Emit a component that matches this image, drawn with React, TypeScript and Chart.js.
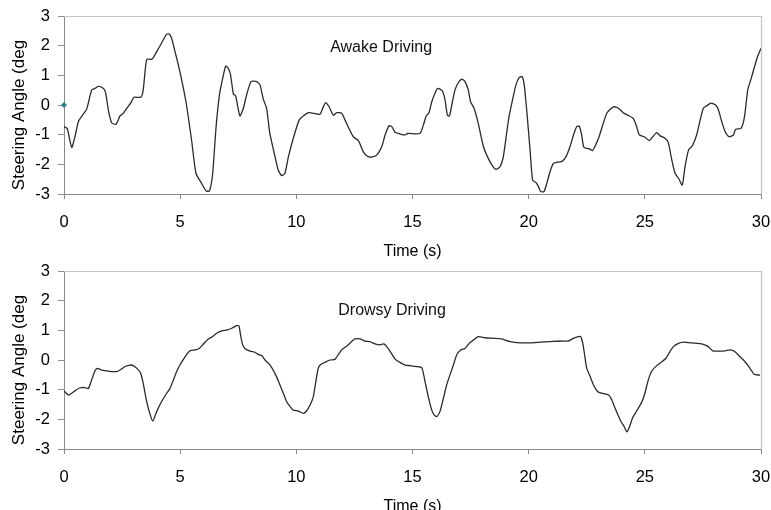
import React, { useEffect, useRef } from "react";
import { Chart, registerables } from "chart.js";
Chart.register(...registerables);

const FONT = '"Liberation Sans", Arial, sans-serif';

// axis ranges / tick steps
const xMin = 0;
const xMax = 30;
const xStep = 5;
const yMin = -3;
const yMax = 3;
const yStep = 1;

const xTitle = "Time (s)";
const yTitle = "Steering Angle (deg";

// Awake driving trace
const awakeTime = [
  0, 0.14, 0.33, 0.47, 0.62, 0.8, 0.98, 1.19, 1.33, 1.48, 1.66, 1.78, 1.91, 2.05, 2.24, 2.41, 2.55, 2.7, 2.87, 3.01,
  3.31, 3.41, 3.56, 3.77, 3.87, 3.99, 4.13, 4.27, 4.42, 4.53, 4.63, 4.78, 4.99, 5.25, 5.49, 5.68, 5.92, 6.11, 6.26, 6.4,
  6.54, 6.69, 6.83, 6.96, 7.07, 7.17, 7.29, 7.39, 7.57, 7.72, 7.86, 8.05, 8.29, 8.44, 8.58, 8.72, 8.86, 9.05, 9.22, 9.37,
  9.51, 9.66, 9.87, 10.12, 10.3, 10.52, 10.74, 11.02, 11.16, 11.26, 11.41, 11.59, 11.74, 11.95, 12.1, 12.24, 12.45, 12.67, 12.88, 13.03,
  13.24, 13.46, 13.68, 13.82, 13.99, 14.11, 14.25, 14.47, 14.68, 14.79, 15.32, 15.47, 15.59, 15.71, 15.83, 15.98, 16.08, 16.28, 16.4, 16.5,
  16.59, 16.69, 16.83, 16.97, 17.12, 17.26, 17.4, 17.5, 17.65, 17.83, 18.05, 18.26, 18.45, 18.59, 18.77, 18.91, 19.05, 19.16, 19.31, 19.45,
  19.59, 19.72, 19.81, 19.94, 20.06, 20.17, 20.32, 20.42, 20.52, 20.66, 20.78, 20.92, 21.06, 21.21, 21.42, 21.61, 21.78, 21.95, 22.07, 22.18,
  22.28, 22.38, 22.64, 22.74, 22.85, 23.03, 23.21, 23.36, 23.5, 23.65, 23.86, 24.07, 24.26, 24.5, 24.65, 24.76, 24.98, 25.19, 25.34, 25.51,
  25.66, 25.87, 26.01, 26.16, 26.3, 26.45, 26.61, 26.73, 26.88, 27.04, 27.23, 27.38, 27.52, 27.66, 27.85, 28.05, 28.17, 28.31, 28.46, 28.63,
  28.81, 28.91, 29.14, 29.29, 29.43, 29.58, 29.72, 29.86, 30,
];
const awakeAngle = [
  -0.73, -0.79, -1.43, -1.07, -0.56, -0.34, -0.13, 0.51, 0.56, 0.63, 0.58, 0.45, -0.17, -0.6, -0.65, -0.37, -0.28, -0.11, 0.06, 0.26,
  0.26, 0.51, 1.54, 1.54, 1.63, 1.8, 1.99, 2.19, 2.39, 2.39, 2.25, 1.8, 1.12, 0.11, -1.18, -2.3, -2.64, -2.89, -2.9, -2.3,
  -0.79, 0.34, 0.9, 1.31, 1.24, 1.01, 0.37, 0.3, -0.37, -0.11, 0.34, 0.79, 0.79, 0.67, 0.19, -0.11, -0.96, -1.63, -2.19, -2.38,
  -2.3, -1.74, -1.12, -0.51, -0.37, -0.26, -0.28, -0.31, -0.06, 0.08, -0.06, -0.34, -0.26, -0.28, -0.51, -0.75, -1.07, -1.2, -1.57, -1.71,
  -1.76, -1.69, -1.4, -1.01, -0.7, -0.73, -0.92, -0.98, -1.01, -0.96, -0.96, -0.67, -0.37, -0.26, 0.11, 0.42, 0.56, 0.48, 0.17, -0.34,
  -0.37, 0.0, 0.51, 0.75, 0.87, 0.79, 0.51, 0.11, -0.11, -0.62, -1.4, -1.8, -2.06, -2.17, -2.08, -1.74, -0.96, -0.37, 0.19, 0.67,
  0.92, 0.96, 0.67, -0.39, -1.52, -2.53, -2.62, -2.75, -2.92, -2.92, -2.64, -2.25, -1.97, -1.93, -1.91, -1.74, -1.4, -0.96, -0.73, -0.71,
  -1.01, -1.43, -1.49, -1.54, -1.4, -1.07, -0.62, -0.28, -0.15, -0.06, -0.11, -0.26, -0.34, -0.45, -0.73, -1.01, -1.07, -1.2, -1.07, -0.93,
  -1.04, -1.12, -1.27, -1.85, -2.3, -2.47, -2.7, -2.08, -1.52, -1.38, -1.01, -0.51, -0.11, -0.03, 0.06, 0.0, -0.17, -0.56, -0.9, -1.07,
  -1.01, -0.82, -0.79, -0.39, 0.51, 0.9, 1.29, 1.65, 1.91,
];

// Drowsy driving trace
const drowsyTime = [
  0, 0.19, 0.33, 0.47, 0.62, 0.76, 0.9, 1.05, 1.19, 1.33, 1.43, 1.62, 1.84, 2.05, 2.27, 2.48, 2.63, 2.84, 2.98, 3.16,
  3.3, 3.41, 3.53, 3.67, 3.82, 3.99, 4.2, 4.42, 4.56, 4.71, 4.85, 4.99, 5.14, 5.28, 5.42, 5.64, 5.82, 5.99, 6.21, 6.4,
  6.57, 6.79, 7.0, 7.22, 7.43, 7.53, 7.6, 7.69, 7.79, 8.01, 8.22, 8.36, 8.51, 8.65, 8.87, 9.08, 9.27, 9.44, 9.58, 9.73,
  9.87, 10.09, 10.3, 10.44, 10.59, 10.73, 10.85, 10.95, 11.05, 11.23, 11.45, 11.66, 11.81, 11.95, 12.17, 12.38, 12.52, 12.74, 12.96, 13.17,
  13.39, 13.6, 13.77, 13.89, 14.03, 14.25, 14.46, 14.68, 14.89, 15.18, 15.4, 15.54, 15.68, 15.83, 15.93, 16.04, 16.18, 16.33, 16.47, 16.61,
  16.76, 16.9, 17.07, 17.26, 17.44, 17.62, 17.83, 18.12, 18.48, 18.84, 19.2, 19.63, 20.06, 20.49, 20.92, 21.35, 21.71, 21.92, 22.14, 22.24,
  22.33, 22.43, 22.5, 22.65, 22.79, 22.98, 23.15, 23.44, 23.58, 23.72, 23.94, 24.11, 24.23, 24.34, 24.48, 24.65, 24.88, 25.02, 25.15, 25.3,
  25.51, 25.73, 25.91, 26.06, 26.23, 26.45, 26.66, 26.95, 27.24, 27.52, 27.73, 27.92, 28.17, 28.46, 28.67, 28.88, 29.1, 29.31, 29.53, 29.7,
  29.96,
];
const drowsyAngle = [
  -1.04, -1.18, -1.12, -1.04, -0.96, -0.93, -0.93, -0.96, -0.67, -0.37, -0.28, -0.34, -0.37, -0.39, -0.39, -0.3, -0.22, -0.17, -0.19, -0.3,
  -0.45, -0.79, -1.29, -1.74, -2.06, -1.74, -1.4, -1.12, -0.96, -0.67, -0.39, -0.17, 0.02, 0.19, 0.31, 0.34, 0.39, 0.53, 0.71, 0.79,
  0.9, 0.98, 1.01, 1.07, 1.16, 1.15, 0.84, 0.51, 0.39, 0.3, 0.26, 0.19, 0.15, 0.0, -0.17, -0.45, -0.79, -1.12, -1.4, -1.57,
  -1.69, -1.72, -1.8, -1.72, -1.52, -1.24, -0.67, -0.26, -0.15, -0.08, 0.0, 0.02, 0.19, 0.34, 0.47, 0.62, 0.71, 0.71, 0.64, 0.62,
  0.54, 0.51, 0.54, 0.45, 0.3, 0.03, -0.08, -0.17, -0.19, -0.22, -0.26, -0.73, -1.24, -1.69, -1.85, -1.91, -1.74, -1.29, -0.84, -0.51,
  -0.17, 0.17, 0.34, 0.39, 0.56, 0.67, 0.79, 0.75, 0.73, 0.71, 0.62, 0.58, 0.58, 0.6, 0.62, 0.64, 0.64, 0.73, 0.79, 0.79,
  0.56, 0.06, -0.28, -0.56, -0.84, -1.07, -1.12, -1.18, -1.35, -1.63, -2.02, -2.25, -2.42, -2.25, -1.94, -1.72, -1.4, -1.07, -0.67, -0.37,
  -0.19, -0.06, 0.06, 0.26, 0.45, 0.56, 0.6, 0.58, 0.56, 0.53, 0.45, 0.31, 0.3, 0.31, 0.34, 0.28, 0.11, -0.06, -0.28, -0.48,
  -0.51,
];

// single marker point in the awake chart
const markerTime = [0];
const markerAngle = [0];

const awakeLabel = "Awake Driving";
const drowsyLabel = "Drowsy Driving";

type PanelProps = {
  times: number[];
  angles: number[];
  label: string;
  labelX: number;
  labelY: number;
  top: number;
  markerT?: number[];
  markerV?: number[];
};

function Panel({ times, angles, label, labelX, labelY, top, markerT, markerV }: PanelProps) {
  const ref = useRef<HTMLCanvasElement | null>(null);
  useEffect(() => {
    if (!ref.current) return;
    const datasets: any[] = [
      {
        data: times.map((t, i) => ({ x: t, y: angles[i] })),
        borderColor: "#2a2a2a",
        borderWidth: 1.3,
        pointRadius: 0,
        tension: 0.2,
        fill: false,
      },
    ];
    if (markerT && markerV) {
      datasets.push({
        data: markerT.map((t, i) => ({ x: t, y: markerV[i] })),
        showLine: false,
        pointStyle: "rectRot",
        pointRadius: 3,
        pointBackgroundColor: "#2f7f86",
        pointBorderColor: "#2f7f86",
        pointBorderWidth: 0,
        clip: false,
      });
    }
    const framePlugin = {
      id: "frame",
      afterDraw(chart: any) {
        const { ctx, chartArea } = chart;
        ctx.save();
        ctx.strokeStyle = "#c4c4c4";
        ctx.lineWidth = 1.2;
        ctx.beginPath();
        ctx.moveTo(chartArea.left, chartArea.top + 0.5);
        ctx.lineTo(chartArea.right + 0.5, chartArea.top + 0.5);
        ctx.lineTo(chartArea.right + 0.5, chartArea.bottom);
        ctx.stroke();
        const xs = chart.scales.x;
        const ys = chart.scales.y;
        ctx.fillStyle = "#111";
        ctx.font = `16px ${FONT}`;
        ctx.textAlign = "center";
        ctx.textBaseline = "alphabetic";
        ctx.fillText(label, xs.getPixelForValue(labelX), ys.getPixelForValue(labelY));
        // y axis title (drawn rotated, offset like the source)
        ctx.translate(chartArea.left - 40, (chartArea.top + chartArea.bottom) / 2 + 10);
        ctx.rotate(-Math.PI / 2);
        ctx.font = `17px ${FONT}`;
        ctx.fillStyle = "#000";
        ctx.fillText(yTitle, 0, 0);
        ctx.restore();
      },
    };
    const chart = new Chart(ref.current, {
      type: "line",
      data: { datasets },
      plugins: [framePlugin],
      options: {
        animation: false,
        responsive: false,
        maintainAspectRatio: false,
        layout: { padding: { top: 16, right: 10, left: 0, bottom: 0 } },
        plugins: { legend: { display: false }, tooltip: { enabled: false } },
        scales: {
          x: {
            type: "linear",
            min: xMin,
            max: xMax,
            afterFit: (s: any) => {
              s.height = 71;
              s.paddingLeft = 0;
              s.paddingRight = 0;
            },
            ticks: { stepSize: xStep, color: "#000", font: { family: FONT, size: 16.5 }, padding: 14, maxRotation: 0 },
            grid: { drawOnChartArea: false, drawTicks: true, tickLength: 5, color: "#8a8a8a" },
            border: { color: "#8a8a8a", width: 1 },
            title: {
              display: true,
              text: xTitle,
              color: "#000",
              font: { family: FONT, size: 16 },
              padding: { top: 0, bottom: 4 },
            },
          },
          y: {
            type: "linear",
            min: yMin,
            max: yMax,
            afterFit: (s: any) => {
              s.width = 64;
              s.paddingTop = 0;
              s.paddingBottom = 0;
            },
            ticks: { stepSize: yStep, color: "#000", font: { family: FONT, size: 16.5 }, padding: 8 },
            grid: { drawOnChartArea: false, drawTicks: true, tickLength: 6, color: "#8a8a8a" },
            border: { color: "#8a8a8a", width: 1 },
            title: { display: false },
          },
        },
      } as any,
    });
    return () => chart.destroy();
  }, [times, angles, label, labelX, labelY, markerT, markerV]);
  return (
    <canvas
      ref={ref}
      width={771}
      height={265}
      style={{ display: "block", position: "absolute", left: 0, top, width: 771, height: 265 }}
    />
  );
}

export default function App() {
  return (
    <div style={{ position: "absolute", left: 0, top: 0, width: 771, height: 510, background: "#fff", overflow: "hidden" }}>
      <Panel times={awakeTime} angles={awakeAngle} label={awakeLabel} labelX={13.65} labelY={1.79} top={0} markerT={markerTime} markerV={markerAngle} />
      <Panel times={drowsyTime} angles={drowsyAngle} label={drowsyLabel} labelX={14.12} labelY={1.52} top={255} />
    </div>
  );
}
